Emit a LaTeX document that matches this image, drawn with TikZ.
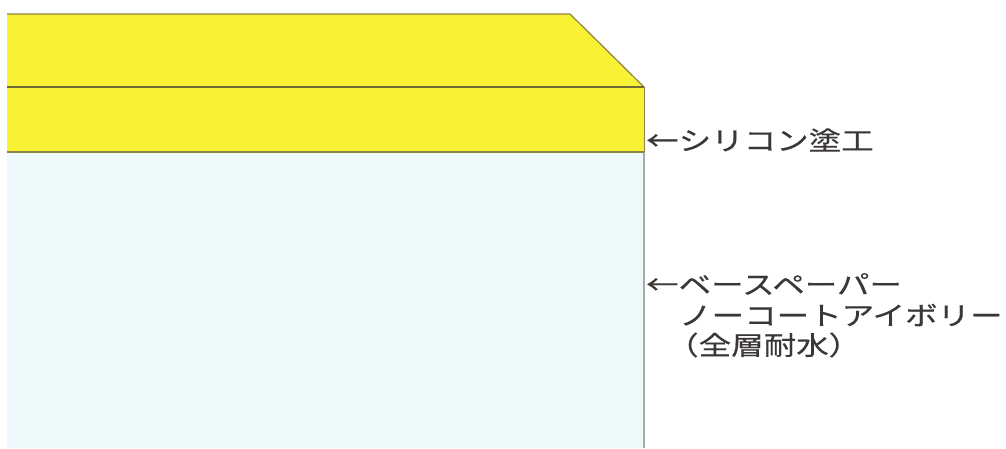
\documentclass[tikz,border=0pt]{standalone}
\usepackage{fontspec}
\newfontfamily\cjk[FakeStretch=1.25,FakeBold=0.4]{Noto Sans CJK JP}
\definecolor{layeryellow}{RGB}{248,241,52}
\definecolor{edgeolive}{RGB}{140,132,70}
\definecolor{paperblue}{RGB}{238,249,252}
\definecolor{edgegrey}{RGB}{170,170,170}
\definecolor{labelgrey}{RGB}{60,55,55}
\tikzset{
  lbl/.style={anchor=west, inner sep=0pt, text=labelgrey, font=\cjk\fontsize{26}{30}\selectfont},
  layeredge/.style={draw=edgeolive, line width=1.2pt},
}
\begin{document}
\begin{tikzpicture}[x=1pt,y=-1pt]
\useasboundingbox (0,0) rectangle (1006,448);
\fill[white] (0,0) rectangle (1006,448);
% base paper
\fill[paperblue] (7,152) rectangle (644,448);
\draw[edgegrey, line width=1.2pt] (644,87) -- (644,448);
% silicone coat layers
\fill[layeryellow] (7,14) -- (570,14) -- (644,87) -- (644,152) -- (7,152) -- cycle;
\draw[layeredge] (7,14) -- (570,14) -- (644,87);
\draw[layeredge, draw=edgeolive!80!black] (7,87) -- (644,87);
\draw[layeredge] (7,152) -- (644,152);
\draw[edgeolive, line width=0.8pt] (644,87) -- (644,152);
% labels
\node[lbl] (coat) at (646,140) {←シリコン塗工};
\node[lbl] (base1) at (646,284) {←ベースペーパー};
\node[lbl] (base2) at (679,315) {ノーコートアイボリー};
\node[lbl] (base3) at (666,345) {（全層耐水）};
\end{tikzpicture}
\end{document}
